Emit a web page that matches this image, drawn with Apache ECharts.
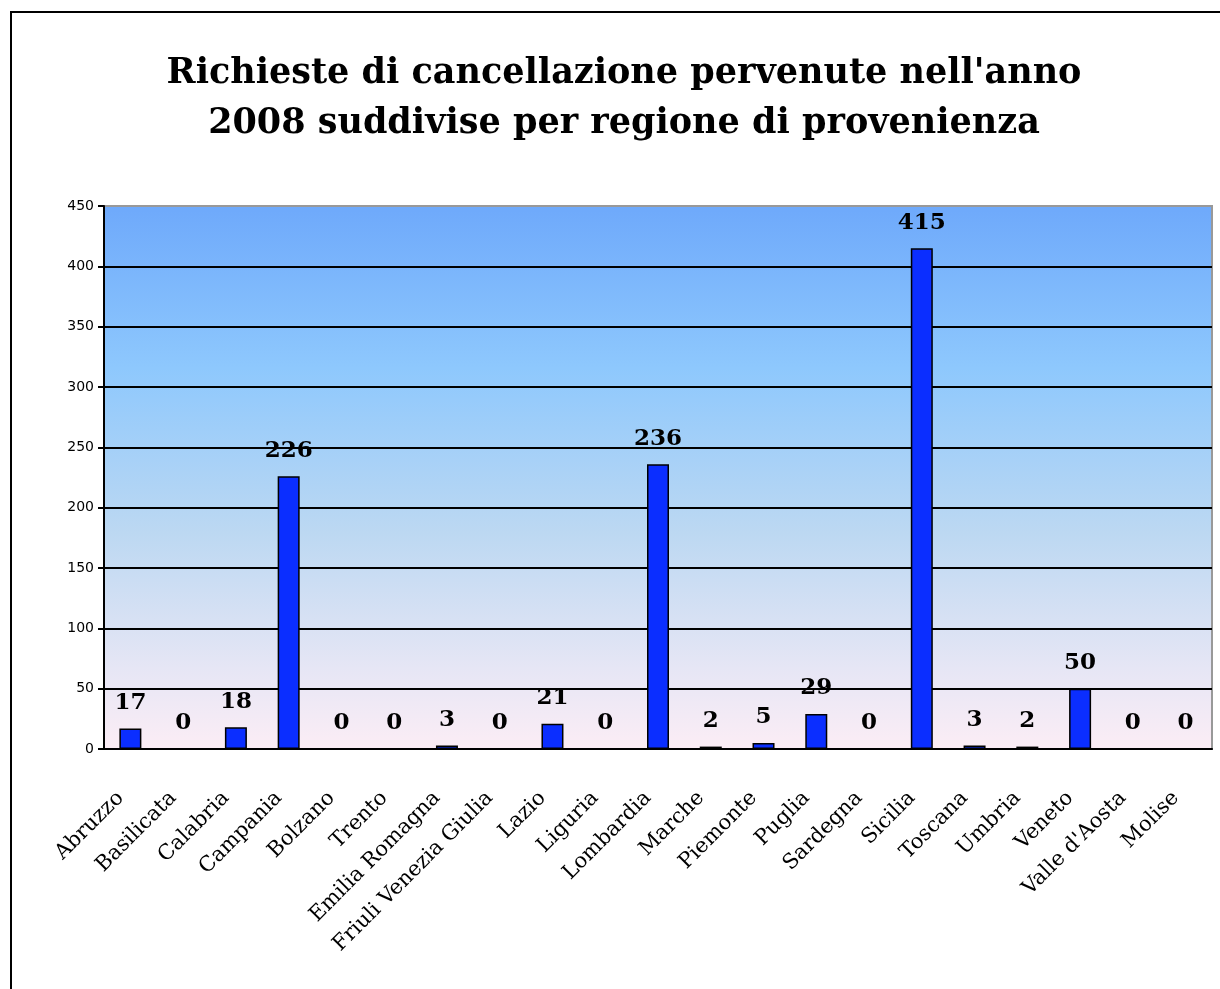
<!DOCTYPE html>
<html>
<head>
<meta charset="utf-8">
<script src="https://cdn.jsdelivr.net/npm/echarts@6/dist/echarts.min.js"></script>
<style>
  html, body { margin: 0; padding: 0; background: #fff; }
  #chart { width: 1220px; height: 989px; }
</style>
</head>
<body>
<div id="chart"></div>
<script>
var regioni = ['Abruzzo', 'Basilicata', 'Calabria', 'Campania', 'Bolzano', 'Trento',
  'Emilia Romagna', 'Friuli Venezia Giulia', 'Lazio', 'Liguria', 'Lombardia', 'Marche',
  'Piemonte', 'Puglia', 'Sardegna', 'Sicilia', 'Toscana', 'Umbria', 'Veneto',
  "Valle d'Aosta", 'Molise'];
var richieste = [17, 0, 18, 226, 0, 0, 3, 0, 21, 0, 236, 2, 5, 29, 0, 415, 3, 2, 50, 0, 0];
var titolo = "Richieste di cancellazione pervenute nell'anno\n2008 suddivise per regione di provenienza";

var myChart = echarts.init(document.getElementById('chart'));

// linee orizzontali nere, bordo superiore grigio
var coloriLinee = ['#000', '#000', '#000', '#000', '#000', '#000', '#000', '#000', '#000', '#999'];

myChart.setOption({
  animation: false,
  title: {
    text: titolo,
    left: 619,
    textAlign: 'center',
    top: 44,
    textStyle: {
      fontFamily: 'DejaVu Serif',
      fontWeight: 'bold',
      fontSize: 35,
      lineHeight: 50,
      color: '#000'
    }
  },
  graphic: [{
    type: 'rect',
    shape: { x: 11, y: 12, width: 1220, height: 1000 },
    style: { fill: 'none', stroke: '#000', lineWidth: 2 },
    silent: true
  }],
  grid: {
    left: 104,
    right: 8,
    top: 206,
    bottom: 240,
    show: true,
    borderColor: '#999',
    borderWidth: 2,
    backgroundColor: new echarts.graphic.LinearGradient(0, 0, 0, 1, [
      { offset: 0, color: '#6ea9fb' },
      { offset: 0.3, color: '#8ec8fd' },
      { offset: 0.6, color: '#bcd8f2' },
      { offset: 0.85, color: '#e6e6f5' },
      { offset: 1, color: '#fcedf5' }
    ])
  },
  xAxis: {
    type: 'category',
    data: regioni,
    axisLine: { lineStyle: { color: '#000', width: 2 } },
    axisTick: { alignWithLabel: false, length: 8, lineStyle: { color: '#000', width: 2 } },
    axisLabel: {
      rotate: 45,
      interval: 0,
      margin: 36,
      padding: [0, 14, 0, 0],
      fontFamily: 'DejaVu Serif',
      fontSize: 21,
      color: '#000'
    }
  },
  yAxis: {
    type: 'value',
    min: 0,
    max: 450,
    interval: 50,
    axisLine: { show: true, lineStyle: { color: '#000', width: 2 } },
    axisTick: { show: true, length: 6, lineStyle: { color: '#000', width: 2 } },
    axisLabel: {
      margin: 10,
      fontFamily: 'DejaVu Sans',
      fontSize: 14,
      color: '#000'
    },
    splitLine: { show: true, lineStyle: { color: coloriLinee, width: 2 } }
  },
  series: [{
    type: 'bar',
    data: richieste,
    barWidth: 22,
    itemStyle: { color: '#0b2eff', borderColor: '#000', borderWidth: 1.5 },
    label: {
      show: true,
      position: 'top',
      distance: 14,
      fontFamily: 'DejaVu Serif',
      fontWeight: 'bold',
      fontSize: 23,
      color: '#000'
    }
  }]
});
</script>
</body>
</html>
